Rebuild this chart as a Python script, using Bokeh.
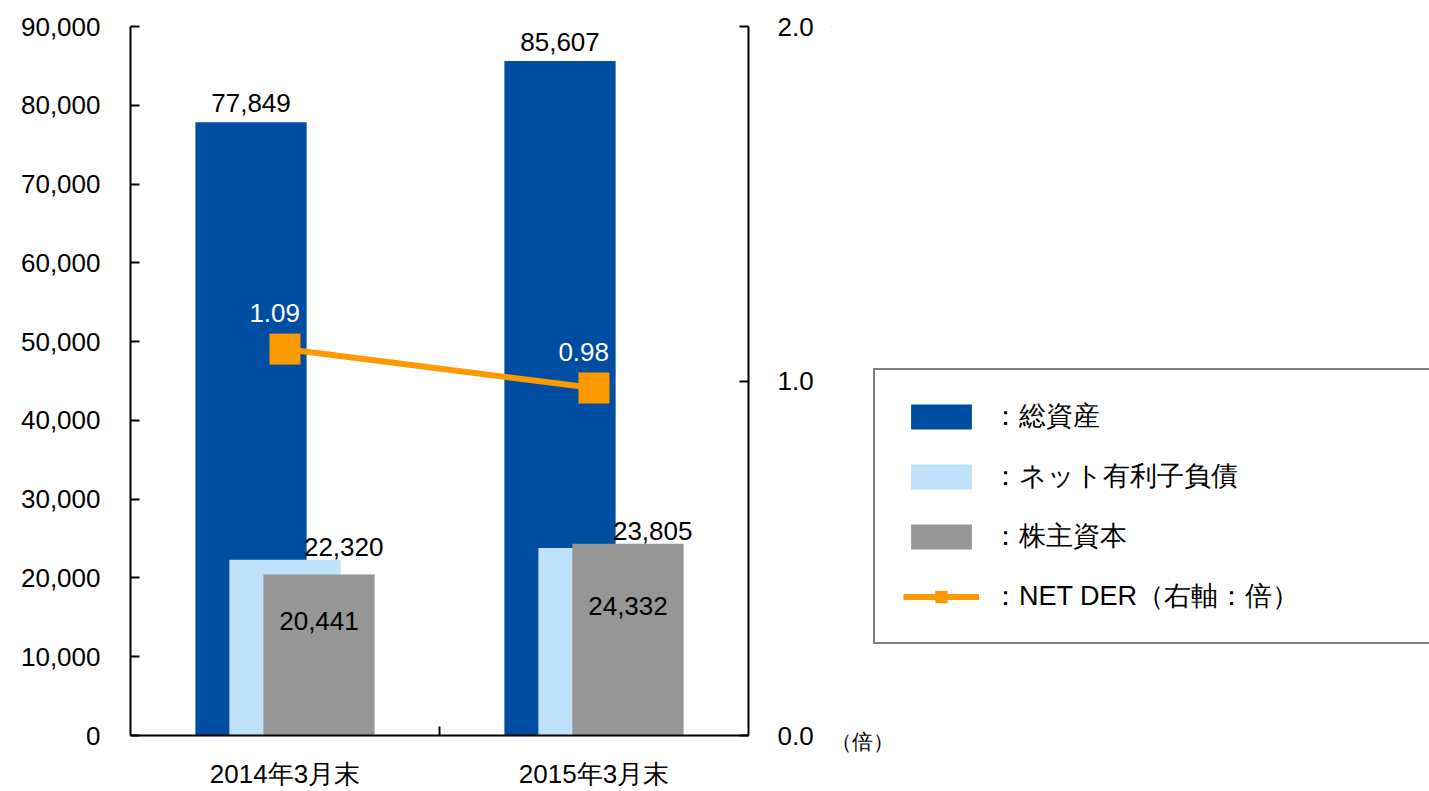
from bokeh.plotting import figure
from bokeh.layouts import row
from bokeh.models import (Range1d, LinearAxis, FixedTicker, NumeralTickFormatter,
                          ColumnDataSource, Legend, LegendItem)
from bokeh.transform import dodge
from bokeh.core.properties import value
from bokeh.embed import file_html
from bokeh.resources import INLINE

# ---- data ----
categories = ["2014年3月末", "2015年3月末"]
total_assets = [77849, 85607]
net_debt = [22320, 23805]
equity = [20441, 24332]
net_der = [1.09, 0.98]
left_ticks = [0, 10000, 20000, 30000, 40000, 50000, 60000, 70000, 80000, 90000]
right_ticks = [0.0, 1.0, 2.0]
legend_labels = ["：総資産", "：ネット有利子負債", "：株主資本", "：NET DER（右軸：倍）"]
unit_label = "（倍）"

FONT = "Liberation Sans"
C_TOTAL = "#004EA2"
C_DEBT = "#BFE1FA"
C_EQ = "#969696"
C_DER = "#FF9900"

xs = [i + 0.5 for i in range(len(categories))]
src = ColumnDataSource(dict(
    x=xs,
    total=total_assets,
    debt=net_debt,
    equity=equity,
    der=net_der,
    total_lbl=[f"{v:,}" for v in total_assets],
    debt_lbl=[f"{v:,}" for v in net_debt],
    eq_lbl=[f"{v:,}" for v in equity],
    der_lbl=[f"{v:.2f}" for v in net_der],
    debt_lbl_y=[max(a, b) for a, b in zip(net_debt, equity)],
    eq_lbl_y=[v / 2 for v in equity],
))

W1 = 830
W2 = 1429 - W1

p = figure(width=W1, height=791, output_backend="svg", toolbar_location=None,
           x_range=Range1d(0, len(categories)), y_range=Range1d(0, left_ticks[-1]),
           min_border_left=130, min_border_right=W1 - 748, min_border_top=26,
           min_border_bottom=54)
p.outline_line_color = None
p.xgrid.visible = False
p.ygrid.visible = False
p.background_fill_color = "white"
p.border_fill_color = "white"

p.extra_y_ranges = {"der": Range1d(right_ticks[0], right_ticks[-1])}

bw = 0.36
bar_total = dict(fill_color=C_TOTAL, line_color=None)
bar_debt = dict(fill_color=C_DEBT, line_color=None)
bar_eq = dict(fill_color=C_EQ, line_color=None)
p.vbar(x=dodge("x", -0.11), top="total", width=bw, source=src, **bar_total)
p.vbar(x="x", top="debt", width=bw, source=src, **bar_debt)
p.vbar(x=dodge("x", 0.11), top="equity", width=bw, source=src, **bar_eq)

p.line(x="x", y="der", source=src, y_range_name="der", line_color=C_DER, line_width=6)
p.scatter(x="x", y="der", source=src, y_range_name="der", marker="square",
          size=31, fill_color=C_DER, line_color=None)

LBL = "26px"
# data labels
p.text(x=dodge("x", -0.11), y="total", text="total_lbl", source=src,
       text_align="center", text_baseline="alphabetic", y_offset=-19,
       text_font=value(FONT), text_font_size=LBL, text_color="black")
p.text(x=dodge("x", 0.19), y="debt_lbl_y", text="debt_lbl", source=src,
       text_align="center", text_baseline="alphabetic", y_offset=-13,
       text_font=value(FONT), text_font_size=LBL, text_color="black")
p.text(x=dodge("x", 0.11), y="eq_lbl_y", text="eq_lbl", source=src,
       text_align="center", text_baseline="middle", y_offset=-34,
       text_font=value(FONT), text_font_size=LBL, text_color="black")
p.text(x="x", y="der", text="der_lbl", source=src, y_range_name="der",
       text_align="right", text_baseline="alphabetic", x_offset=15, y_offset=-36,
       text_font=value(FONT), text_font_size=LBL, text_color="white")

# x axis
xa = p.xaxis[0]
xa.ticker = FixedTicker(ticks=xs, minor_ticks=[float(i) for i in range(1, len(categories))])
xa.major_label_overrides = {x: c for x, c in zip(xs, categories)}
xa.major_tick_in = 0
xa.major_tick_out = 0
xa.minor_tick_in = 9
xa.minor_tick_out = 0
xa.minor_tick_line_color = "black"
xa.minor_tick_line_width = 2
xa.axis_line_color = "black"
xa.axis_line_width = 2
xa.major_label_standoff = 23
xa.major_label_text_font = FONT
xa.major_label_text_font_size = "26px"
xa.major_label_text_color = "black"

# left axis
ya = p.yaxis[0]
ya.ticker = FixedTicker(ticks=left_ticks)
ya.formatter = NumeralTickFormatter(format="0,0")
ya.major_tick_in = 9
ya.major_tick_out = 0
ya.minor_tick_line_color = None
ya.major_tick_line_color = "black"
ya.major_tick_line_width = 2
ya.axis_line_color = "black"
ya.axis_line_width = 2
ya.major_label_standoff = 30
ya.major_label_text_font = FONT
ya.major_label_text_font_size = "26px"
ya.major_label_text_color = "black"

# right axis
ra = LinearAxis(y_range_name="der", ticker=FixedTicker(ticks=right_ticks),
                formatter=NumeralTickFormatter(format="0.0"))
ra.major_tick_in = 9
ra.major_tick_out = 0
ra.minor_tick_line_color = None
ra.major_tick_line_color = "black"
ra.major_tick_line_width = 2
ra.axis_line_color = "black"
ra.axis_line_width = 2
ra.major_label_standoff = 29
ra.major_label_text_font = FONT
ra.major_label_text_font_size = "26px"
ra.major_label_text_color = "black"
p.add_layout(ra, "right")

# ---- legend panel (right of the chart) ----
# same series drawn outside this panel's visible y range, so only legend swatches show
p2 = figure(width=W2, height=791, output_backend="svg", toolbar_location=None,
            x_range=Range1d(0, W2), y_range=Range1d(-2, -1),
            x_axis_location=None, y_axis_location=None, min_border=0)
p2.outline_line_color = None
p2.background_fill_color = "white"
p2.border_fill_color = "white"
p2.grid.visible = False

g_total = p2.vbar(x="x", top="total", width=bw, source=src, **bar_total)
g_debt = p2.vbar(x="x", top="debt", width=bw, source=src, **bar_debt)
g_eq = p2.vbar(x="x", top="equity", width=bw, source=src, **bar_eq)
g_line = p2.line(x="x", y="der", source=src, line_color=C_DER, line_width=6)
g_pts = p2.scatter(x="x", y="der", source=src, marker="square", size=31,
                   fill_color=C_DER, line_color=None)

legend = Legend(items=[
    LegendItem(label=legend_labels[0], renderers=[g_total]),
    LegendItem(label=legend_labels[1], renderers=[g_debt]),
    LegendItem(label=legend_labels[2], renderers=[g_eq]),
    LegendItem(label=legend_labels[3], renderers=[g_line, g_pts]),
], location=(873 - W1, 91), margin=0, padding=28, spacing=24,
    glyph_width=76, glyph_height=31, label_height=31, label_width=420,
    label_standoff=13, label_text_font=FONT, label_text_font_size="27px",
    label_text_color="black", border_line_color="black", border_line_width=2,
    background_fill_color="white", background_fill_alpha=1.0)
p2.add_layout(legend)

# unit of the right axis, shown just right of the "0.0" tick label
unit_pos = 861 - W1
ua = LinearAxis(ticker=FixedTicker(ticks=[unit_pos]),
                major_label_overrides={unit_pos: unit_label})
ua.axis_line_color = None
ua.major_tick_line_color = None
ua.minor_tick_line_color = None
ua.major_label_standoff = -12
ua.major_label_text_font = FONT
ua.major_label_text_font_size = "21px"
ua.major_label_text_color = "black"
p2.add_layout(ua, "below")

layout = row(p, p2)
open("out.html", "w").write(file_html(layout, INLINE))
